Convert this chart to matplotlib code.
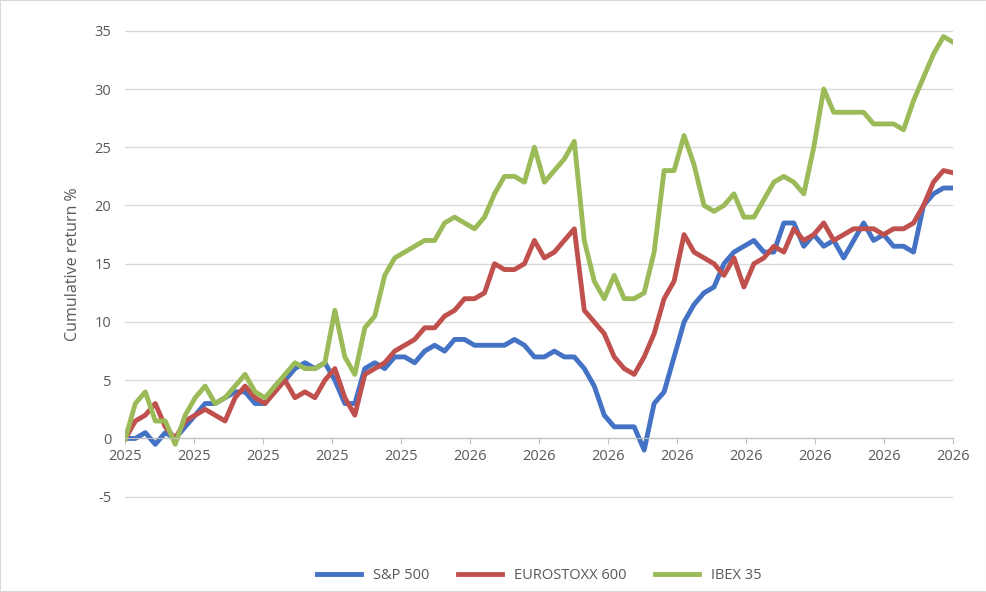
import matplotlib
matplotlib.use("Agg")
import matplotlib.pyplot as plt
import numpy as np

tick_labels = ["2025"]*5 + ["2026"]*8
sp500 = [0,0,0.5,-0.5,0.5,0,1,2,3,3,3.5,4,4,3,3,4.5,5,6,6.5,6,6.5,5,3,3,6,6.5,6,7,7,6.5,7.5,8,7.5,8.5,8.5,8,8,8,8,8.5,8,7,7,7.5,7,7,6,4.5,2,1,1,1,-1,3,4,7,10,11.5,12.5,13,15,16,16.5,17,16,16,18.5,18.5,16.5,17.5,16.5,17,15.5,17,18.5,17,17.5,16.5,16.5,16,20,21,21.5,21.5]
stoxx = [0,1.5,2,3,1,0,1.5,2,2.5,2,1.5,3.5,4.5,3.5,3,4,5,3.5,4,3.5,5,6,3.5,2,5.5,6,6.5,7.5,8,8.5,9.5,9.5,10.5,11,12,12,12.5,15,14.5,14.5,15,17,15.5,16,17,18,11,10,9,7,6,5.5,7,9,12,13.5,17.5,16,15.5,15,14,15.5,13,15,15.5,16.5,16,18,17,17.5,18.5,17,17.5,18,18,18,17.5,18,18,18.5,20,22,23,22.8]
ibex = [0,3,4,1.5,1.5,-0.5,2,3.5,4.5,3,3.5,4.5,5.5,4,3.5,4.5,5.5,6.5,6,6,6.5,11,7,5.5,9.5,10.5,14,15.5,16,16.5,17,17,18.5,19,18.5,18,19,21,22.5,22.5,22,25,22,23,24,25.5,17,13.5,12,14,12,12,12.5,16,23,23,26,23.5,20,19.5,20,21,19,19,20.5,22,22.5,22,21,25,30,28,28,28,28,27,27,27,26.5,29,31,33,34.5,34]

plt.rcParams['font.family'] = ['Open Sans', 'DejaVu Sans']
plt.rcParams['axes.unicode_minus'] = False
fig = plt.figure(figsize=(9.87,5.92), dpi=100)
ax = fig.add_axes([0.127, 0.158, 0.839, 0.793])
x = np.arange(len(ibex))
ax.plot(x, sp500, color="#4472C4", lw=3.5, label="S&P 500")
ax.plot(x, stoxx, color="#C0504D", lw=3.5, label="EUROSTOXX 600")
ax.plot(x, ibex, color="#9BBB59", lw=3.5, label="IBEX 35")
ax.set_ylim(-5.15, 35.15)
ax.set_xlim(0, len(x)-1)
ax.set_yticks(range(-5, 36, 5))
ax.set_xticks(np.linspace(0, len(x)-1, 13))
ax.set_xticklabels(tick_labels)
ax.grid(axis='y', color='#d9d9d9', lw=1)
ax.set_axisbelow(True)
for s in ['top','right','left']:
    ax.spines[s].set_visible(False)
ax.spines['bottom'].set_position(('data', 0))
ax.spines['bottom'].set_color('#bfbfbf')
ax.tick_params(axis='y', length=0, labelsize=10.5, colors='#595959', pad=10)
ax.tick_params(axis='x', length=4, color='#bfbfbf', labelsize=10.5, colors='#595959')
ax.set_ylabel("Cumulative return %", fontsize=11.5, color='#595959', labelpad=10)
ax.legend(loc='upper center', bbox_to_anchor=(0.5, -0.12), ncol=3, frameon=False, fontsize=10.5, handlelength=3, labelcolor='#595959', columnspacing=2)
fig.patches.append(plt.Rectangle((0,0),1,1, transform=fig.transFigure, fill=False, ec='#d9d9d9', lw=1.5))
fig.savefig("out.png", dpi=100)
